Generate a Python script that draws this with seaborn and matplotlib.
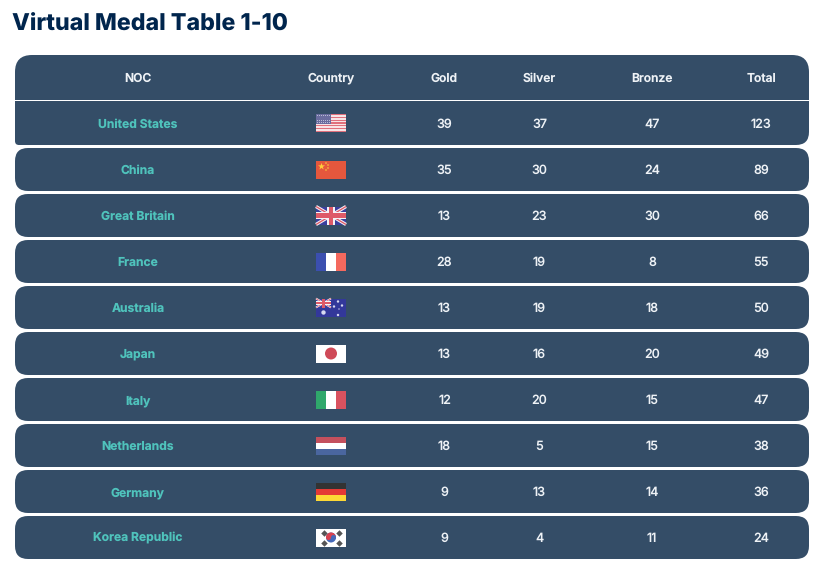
import numpy as np
import pandas as pd
import seaborn as sns
import matplotlib.pyplot as plt
from matplotlib.patches import PathPatch, Rectangle, Circle, Polygon
from matplotlib.path import Path

noc = ['United States', 'China', 'Great Britain', 'France', 'Australia',
       'Japan', 'Italy', 'Netherlands', 'Germany', 'Korea Republic']
gold = [39, 35, 13, 28, 13, 13, 12, 18, 9, 9]
silver = [37, 30, 23, 19, 19, 16, 20, 5, 13, 4]
bronze = [47, 24, 30, 8, 18, 20, 15, 15, 14, 11]
total = [123, 89, 66, 55, 50, 49, 47, 38, 36, 24]
headers = ['NOC', 'Country', 'Gold', 'Silver', 'Bronze', 'Total']

ROW = '#344D67'
TITLE = '#00254D'
TEAL = '#4FC3BC'
LIGHT = '#EEF2F6'

sns.set_theme(style='white')
plt.rcParams['font.family'] = ['Inter', 'DejaVu Sans']
plt.rcParams['text.hinting'] = 'none'
plt.rcParams['text.hinting_factor'] = 1

df = pd.DataFrame({'NOC': noc, 'Gold': gold, 'Silver': silver, 'Bronze': bronze, 'Total': total})

fig = plt.figure(figsize=(8.16, 5.69), dpi=100)
ax = fig.add_axes([0, 0, 1, 1])
ax.set_xlim(0, 816)
ax.set_ylim(569, 0)
ax.axis('off')


def round_box(x0, y0, x1, y1, tl, tr, br, bl):
    # rectangle with its own radius on each corner (y axis points down)
    verts = [(x0 + tl, y0), (x1 - tr, y0), (x1, y0), (x1, y0 + tr),
             (x1, y1 - br), (x1, y1), (x1 - br, y1),
             (x0 + bl, y1), (x0, y1), (x0, y1 - bl),
             (x0, y0 + tl), (x0, y0), (x0 + tl, y0), (x0 + tl, y0)]
    codes = [Path.MOVETO, Path.LINETO, Path.CURVE3, Path.CURVE3,
             Path.LINETO, Path.CURVE3, Path.CURVE3,
             Path.LINETO, Path.CURVE3, Path.CURVE3,
             Path.LINETO, Path.CURVE3, Path.CURVE3, Path.CLOSEPOLY]
    ax.add_patch(PathPatch(Path(verts, codes), fc=ROW, ec='none'))


def stripes(x, y, w, h, colors, vertical=False):
    n = len(colors)
    for i, c in enumerate(colors):
        if vertical:
            ax.add_patch(Rectangle((x + i * w / n, y), w / n, h, fc=c, ec='none'))
        else:
            ax.add_patch(Rectangle((x, y + i * h / n), w, h / n, fc=c, ec='none'))


def union_jack(x, y, w, h, lw=2.4):
    ax.add_patch(Rectangle((x, y), w, h, fc='#3A3F9E', ec='none', zorder=3))
    for ys in ([y, y + h], [y + h, y]):
        ax.plot([x, x + w], ys, color='#F4F4F8', lw=lw, solid_capstyle='butt', zorder=3)
        ax.plot([x, x + w], ys, color='#DE5A68', lw=lw * 0.4, solid_capstyle='butt', zorder=3)
    ax.add_patch(Rectangle((x + w * 0.38, y), w * 0.24, h, fc='#F4F4F8', ec='none', zorder=3))
    ax.add_patch(Rectangle((x, y + h * 0.30), w, h * 0.40, fc='#F4F4F8', ec='none', zorder=3))
    ax.add_patch(Rectangle((x + w * 0.43, y), w * 0.14, h, fc='#DE5A68', ec='none', zorder=3))
    ax.add_patch(Rectangle((x, y + h * 0.38), w, h * 0.24, fc='#DE5A68', ec='none', zorder=3))


def flag(name, x, y, w=30, h=18):
    if name == 'United States':
        stripes(x, y, w, h, ['#E0707C', '#F8E4E6'] * 6 + ['#E0707C'])
        ax.add_patch(Rectangle((x, y), w * 0.49, h * 0.54, fc='#6A6C9E', ec='none'))
        for i in range(7):
            for j in range(5):
                ax.add_patch(Rectangle((x + 0.7 + i * 2, y + 0.7 + j * 1.9), 0.8, 0.8, fc='#B9BBD4', ec='none'))
    elif name == 'China':
        ax.add_patch(Rectangle((x, y), w, h, fc='#E5573D', ec='none'))
        ax.scatter([x + 5], [y + 5], marker='*', s=28, c='#FFCF3A', lw=0)
        ax.scatter([x + 10, x + 12, x + 12, x + 10], [y + 2, y + 4.5, y + 7.5, y + 9.5],
                   marker='s', s=2, c='#EE8F3C', lw=0)
    elif name == 'Great Britain':
        union_jack(x, y, w, h)
    elif name == 'France':
        stripes(x, y, w, h, ['#3B4FAF', '#FFFFFF', '#F4695E'], vertical=True)
    elif name == 'Australia':
        ax.add_patch(Rectangle((x, y), w, h, fc='#33389A', ec='none'))
        union_jack(x, y, w / 2, h / 2, lw=1.3)
        ax.scatter([x + 7.5, x + 22, x + 18, x + 26, x + 23, x + 22],
                   [y + 14, y + 3, y + 8, y + 7, y + 10.5, y + 16.5],
                   marker='o', s=[10, 3, 3, 3, 1, 3], c='#D8DAF0', lw=0, zorder=4)
    elif name == 'Japan':
        ax.add_patch(Rectangle((x, y), w, h, fc='#FFFFFF', ec='none'))
        ax.add_patch(Circle((x + w / 2, y + h / 2), 6, fc='#CF4A58', ec='none'))
    elif name == 'Italy':
        stripes(x, y, w, h, ['#2FA76B', '#FFFFFF', '#D9525F'], vertical=True)
    elif name == 'Netherlands':
        stripes(x, y, w, h, ['#C4505D', '#FFFFFF', '#4A669F'])
    elif name == 'Germany':
        stripes(x, y, w, h, ['#333333', '#E53935', '#FDD835'])
    elif name == 'Korea Republic':
        ax.add_patch(Rectangle((x, y), w, h, fc='#FFFFFF', ec='none'))
        cx, cy = x + w / 2, y + h / 2
        ax.add_patch(Circle((cx, cy), 5, fc='#4468B8', ec='none', zorder=3))
        t = np.linspace(np.pi, 2 * np.pi, 30)
        top = np.column_stack([cx + 5 * np.cos(t), cy + 5 * np.sin(t)])
        ax.add_patch(Polygon(top, fc='#D9424F', ec='none', zorder=3))
        ax.add_patch(Circle((cx - 2.5, cy), 2.5, fc='#D9424F', ec='none', zorder=3))
        ax.add_patch(Circle((cx + 2.5, cy), 2.5, fc='#4468B8', ec='none', zorder=3))
        ax.scatter([cx - 7.5, cx + 7.5, cx - 7.5, cx + 7.5], [cy - 5, cy - 5, cy + 5, cy + 5],
                   marker='D', s=11, c='#555555', lw=0, zorder=3)


col_x = [138, 331, 444.5, 539.5, 652, 761]
left, right = 15, 809

# header block
round_box(left, 55, right, 100, 17, 17, 0, 0)
for cx, h in zip(col_x, headers):
    ax.text(cx, 81.5, h, color=LIGHT, fontsize=8.7, fontweight='semibold', ha='center', va='baseline')

tops = [101, 148, 194, 240, 286, 332, 378, 424, 470, 516]
bottoms = [145, 191, 237, 283, 329, 375, 421, 467, 513, 559]

for i, row in df.iterrows():
    t, b = tops[i], bottoms[i]
    if i == 0:
        round_box(left, t, right, b, 0, 0, 13, 4)
    else:
        round_box(left, t, right, b, 13, 13, 13, 13)
    cy = (t + b) / 2
    # fixed baseline so every cell in a row lines up
    ax.text(col_x[0], cy + 4.5, row['NOC'], color=TEAL, fontsize=8.7, fontweight='bold', ha='center', va='baseline')
    flag(row['NOC'], 316, cy - 9)
    for cx, col in zip(col_x[2:], ['Gold', 'Silver', 'Bronze', 'Total']):
        ax.text(cx, cy + 4.5, str(row[col]), color=LIGHT, fontsize=9, fontweight='medium', ha='center', va='baseline')

ax.text(12, 31, 'Virtual Medal Table 1-10', color=TITLE, fontsize=16.7, fontweight='heavy', ha='left', va='baseline')

fig.savefig('out.png', dpi=100)
